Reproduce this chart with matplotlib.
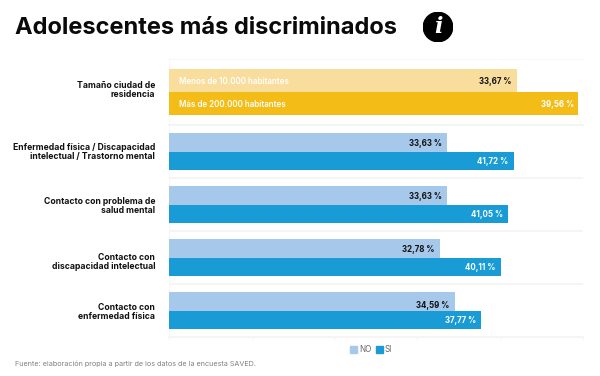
import matplotlib
matplotlib.use("Agg")
import matplotlib.pyplot as plt
from matplotlib.patches import Circle, Patch
from matplotlib.transforms import ScaledTranslation
import numpy as np

plt.rcParams['font.family'] = ['Inter', 'DejaVu Sans']

W, H = 600, 376
TITLE = "Adolescentes más discriminados"
SOURCE = "Fuente: elaboración propia a partir de los datos de la encuesta SAVED."

top_category = "Tamaño ciudad de\nresidencia"
top_series = ["Menos de 10.000 habitantes", "Más de 200.000 habitantes"]
top_values = [33.67, 39.56]
top_labels = ["33,67 %", "39,56 %"]

categories = ["Enfermedad física / Discapacidad\nintelectual / Trastorno mental",
              "Contacto con problema de\nsalud mental",
              "Contacto con\ndiscapacidad intelectual",
              "Contacto con\nenfermedad física"]
no_values = [33.63, 33.63, 32.78, 34.59]
si_values = [41.72, 41.05, 40.11, 37.77]
no_labels = ["33,63 %", "33,63 %", "32,78 %", "34,59 %"]
si_labels = ["41,72 %", "41,05 %", "40,11 %", "37,77 %"]

C_NO, C_SI = "#a6c8ea", "#199cd6"
C_TOP1, C_TOP2 = "#f9dd9d", "#f3bc17"
GRID = "#f4f4f4"

fig = plt.figure(figsize=(W / 100, H / 100), dpi=100, facecolor="white")

def px_axes(x0, y0, x1, y1):
    return fig.add_axes([x0 / W, 1 - y1 / H, (x1 - x0) / W, (y1 - y0) / H])

def style(ax, xmax, ticks):
    ax.set_xlim(0, xmax)
    ax.set_xticks(ticks)
    ax.set_xticklabels([])
    ax.tick_params(axis="x", length=2.5, width=0.8, color=GRID)
    ax.tick_params(axis="y", length=0, labelsize=6.2, pad=10)
    ax.spines["right"].set_visible(False)
    ax.spines["left"].set_color("#f7f7f7")
    ax.spines["left"].set_zorder(0.5)
    ax.spines["top"].set_color("#f7f7f7")
    ax.spines["bottom"].set_color(GRID)
    ax.spines["bottom"].set_linewidth(1.2)
    ax.set_axisbelow(True)
    for t in ax.get_yticklabels():
        t.set_fontweight("bold")
        t.set_color("#111111")
        t.set_linespacing(1.02)

def nudge(label, dy_px):
    label.set_transform(label.get_transform() +
                        ScaledTranslation(0, -dy_px / 100, fig.dpi_scale_trans))

# top panel
ax0 = px_axes(169, 59, 583, 125)
y = np.array([0])
h = 0.35
ax0.barh(y - h / 2, [top_values[0]], h, color=C_TOP1)
ax0.barh(y + h / 2, [top_values[1]], h, color=C_TOP2)
ax0.set_ylim(0.5, -0.5)
ax0.set_yticks([0])
ax0.set_yticklabels([top_category])
style(ax0, 40.04, [0, 10, 20, 30, 40])
ax0.tick_params(axis="x", length=0)
nudge(ax0.get_yticklabels()[0], -3.5)
FS = 5.75
ax0.annotate(top_series[0], (0, -h / 2), xytext=(7, 0), textcoords="offset points",
             va="center_baseline", ha="left", color="white", fontsize=FS, fontweight="semibold")
ax0.annotate(top_series[1], (0, h / 2), xytext=(7, 0), textcoords="offset points",
             va="center_baseline", ha="left", color="white", fontsize=FS, fontweight="semibold")
ax0.annotate(top_labels[0], (top_values[0], -h / 2), xytext=(-4, 0), textcoords="offset points",
             va="center_baseline", ha="right", color="#111111", fontsize=FS, fontweight="bold")
ax0.annotate(top_labels[1], (top_values[1], h / 2), xytext=(-2.5, 0), textcoords="offset points",
             va="center_baseline", ha="right", color="white", fontsize=FS, fontweight="bold")

# main panel
ax = px_axes(169, 125, 583, 337)
pos = np.arange(len(categories))
ax.barh(pos - h / 2, no_values, h, color=C_NO, label="NO")
ax.barh(pos + h / 2, si_values, h, color=C_SI, label="SI")
ax.set_ylim(len(categories) - 0.5, -0.5)
ax.set_yticks(pos)
ax.set_yticklabels(categories)
style(ax, 50.06, [0, 10, 20, 30, 40, 50])
for lab, dy in zip(ax.get_yticklabels(), [-1, 0, 3, 0.5]):
    nudge(lab, dy)
ax.set_yticks(pos[:-1] + 0.5, minor=True)
ax.tick_params(axis="y", which="minor", length=0)
ax.grid(axis="y", which="minor", color=GRID, linewidth=1.2)
ax.spines["top"].set_color(GRID)
ax.spines["top"].set_linewidth(1.2)
no_dy = [0, 0, 0, 2]
for i, (n, s, nl, sl) in enumerate(zip(no_values, si_values, no_labels, si_labels)):
    ax.annotate(nl, (n, i - h / 2), xytext=(-4, -no_dy[i]), textcoords="offset points",
                va="center_baseline", ha="right", color="#111111", fontsize=FS, fontweight="bold")
    ax.annotate(sl, (s, i + h / 2), xytext=(-4, 0), textcoords="offset points",
                va="center_baseline", ha="right", color="white", fontsize=FS, fontweight="bold")

handles = [Patch(color=C_NO, label="NO"), Patch(color=C_SI, label="SI")]
fig.legend(handles=handles, loc="center", bbox_to_anchor=(371 / W, 1 - 350 / H), ncol=2,
           frameon=False, fontsize=5.8, labelcolor="#666666",
           handlelength=0.9, handleheight=0.9, handletextpad=0.25, columnspacing=0.5,
           borderpad=0, borderaxespad=0)

fig.text(15 / W, 1 - 28 / H, TITLE, fontsize=17.0, fontweight="bold", color="#0a0a0a",
         ha="left", va="center")
fig.text(15 / W, 1 - 363.5 / H, SOURCE, fontsize=5.2, color="#808080", ha="left", va="center")

# info icon
icon = fig.add_axes([423 / W, 1 - 42 / H, 30 / W, 30 / H])
icon.set_xlim(-1, 1); icon.set_ylim(-1, 1); icon.axis("off")
icon.add_patch(Circle((0, 0), 0.98, color="black"))
icon.text(0, -0.02, "i", color="white", fontsize=16, fontweight="bold", fontstyle="italic",
          family=["DejaVu Serif"], ha="center", va="center")

fig.savefig("out.png", dpi=100, facecolor="white")
